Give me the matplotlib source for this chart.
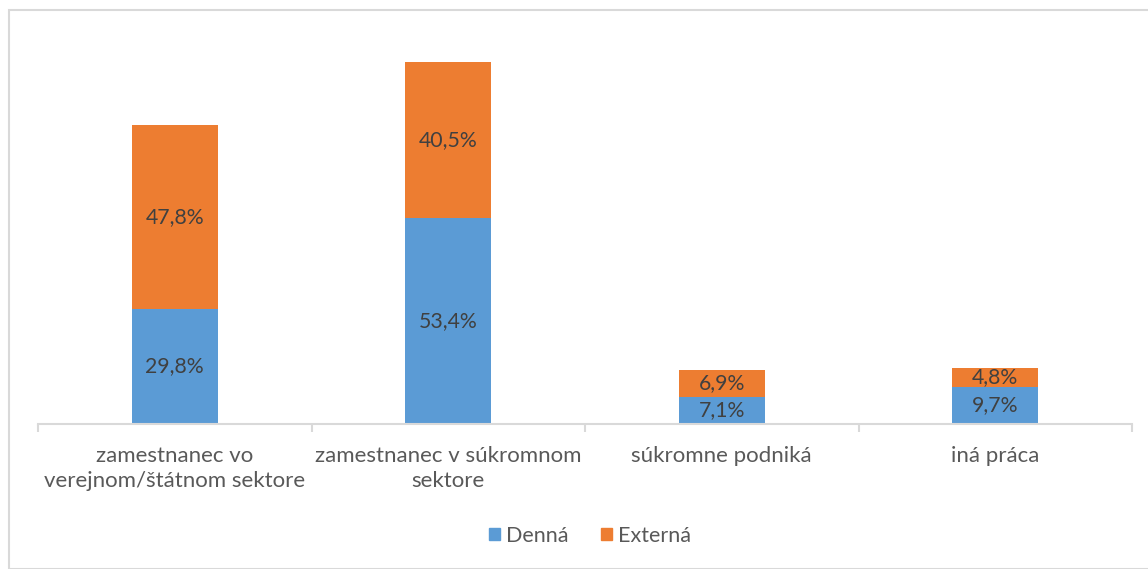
import matplotlib.pyplot as plt
import numpy as np
from matplotlib.patches import Rectangle, Patch

categories = ["zamestnanec vo\nverejnom/štátnom sektore",
              "zamestnanec v súkromnom\nsektore",
              "súkromne podniká",
              "iná práca"]
denna = [29.8, 53.4, 7.1, 9.7]
externa = [47.8, 40.5, 6.9, 4.8]

blue = "#5b9bd5"
orange = "#ed7d31"
grid_col = "#d9d9d9"

plt.rcParams['font.family'] = ['Lato', 'DejaVu Sans']

W, H = 1148, 569
fig = plt.figure(figsize=(W / 100, H / 100), dpi=100)

# figure border
fig.patches.append(Rectangle((8.5 / W, 0), 1, 1 - 9.5 / H, transform=fig.transFigure,
                             fill=False, edgecolor=grid_col, linewidth=1.5))

ax = fig.add_axes([38 / W, 1 - 424 / H, (1132 - 38) / W, (424 - 38.5) / H])
x = np.arange(len(categories))
w = 0.314
ax.bar(x, denna, w, color=blue, label="Denná")
ax.bar(x, externa, w, bottom=denna, color=orange, label="Externá")

for i in range(len(categories)):
    ax.text(x[i], denna[i] / 2, f"{denna[i]:.1f}%".replace(".", ","),
            ha="center", va="center", fontsize=15.3, color="#404040")
    ax.text(x[i], denna[i] + externa[i] / 2, f"{externa[i]:.1f}%".replace(".", ","),
            ha="center", va="center", fontsize=15.3, color="#404040")

ax.set_xlim(-0.5, len(categories) - 0.5)
ax.set_ylim(0, 100)
for s in ["top", "right", "left"]:
    ax.spines[s].set_visible(False)
ax.spines["bottom"].set_color(grid_col)
ax.spines["bottom"].set_linewidth(1.5)
ax.set_yticks([])

ax.set_xticks(np.arange(-0.5, len(categories)), minor=False)
ax.set_xticklabels([])
ax.tick_params(axis="x", which="major", length=6, width=1.5, color=grid_col)
ax.set_xticks(x, minor=True)
ax.set_xticklabels(categories, minor=True, fontsize=16, color="#595959", linespacing=1.27)
ax.tick_params(axis="x", which="minor", length=0, pad=16)

ax.legend(handles=[Patch(color=blue, label="Denná"), Patch(color=orange, label="Externá")],
          loc="center", bbox_to_anchor=(590 / W, 1 - 536 / H), bbox_transform=fig.transFigure,
          ncol=2, frameon=False, fontsize=15.5, labelcolor="#595959",
          handlelength=0.5, handleheight=0.5, handletextpad=0.3, columnspacing=1.5)

fig.savefig("out.png", dpi=100)
